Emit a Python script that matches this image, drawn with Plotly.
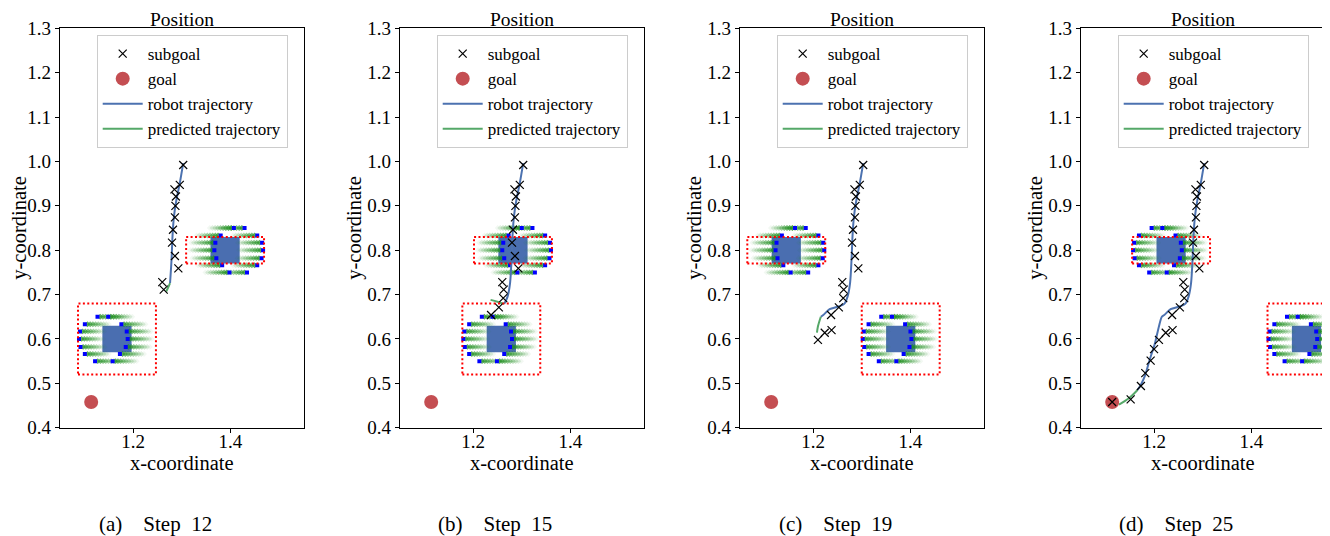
import plotly.graph_objects as go

# the page body adds an 8px margin; the figure is sized and laid out to compensate
PAGE_W, PAGE_H = 1330, 536
SHIFT = 8
FIG_W, FIG_H = PAGE_W - SHIFT, PAGE_H - SHIFT
FONT = "Liberation Serif, Times New Roman, serif"

# ---------------- data ----------------
panel_letters = ["a", "b", "c", "d"]
panel_steps = [12, 15, 19, 25]

x_range = [1.05, 1.55]
y_range = [0.4, 1.3]
x_tickvals = [1.2, 1.4]
y_tickvals = [0.4, 0.5, 0.6, 0.7, 0.8, 0.9, 1.0, 1.1, 1.2, 1.3]

goal_x = [1.114]
goal_y = [0.458]

subgoal_x = [1.303, 1.296, 1.285, 1.288, 1.287, 1.286, 1.282, 1.280, 1.286, 1.293,
             1.260, 1.263, 1.262, 1.253, 1.237, 1.238, 1.224, 1.210,
             1.200, 1.193, 1.182, 1.173, 1.152, 1.114]
subgoal_y = [0.992, 0.947, 0.937, 0.921, 0.900, 0.874, 0.846, 0.817, 0.787, 0.759,
             0.728, 0.711, 0.692, 0.671, 0.654, 0.620, 0.614, 0.598,
             0.577, 0.551, 0.523, 0.494, 0.464, 0.458]
subgoal_count = [12, 15, 18, 24]

traj_x = [1.303, 1.296, 1.289, 1.284, 1.281, 1.279, 1.276, 1.271, 1.264,
          1.252, 1.234, 1.221, 1.216, 1.210, 1.202, 1.191, 1.182, 1.173, 1.166]
traj_y = [0.996, 0.951, 0.913, 0.876, 0.831, 0.778, 0.726, 0.696, 0.679,
          0.673, 0.667, 0.654, 0.650, 0.628, 0.591, 0.553, 0.519, 0.497, 0.485]
traj_count = [7, 9, 13, 19]

pred_x = [[1.276, 1.272, 1.268], [1.264, 1.250, 1.236],
          [1.216, 1.210, 1.208], [1.166, 1.149, 1.128]]
pred_y = [[0.726, 0.716, 0.707], [0.679, 0.684, 0.688],
          [0.650, 0.628, 0.614], [0.485, 0.467, 0.452]]

# obstacles: centre per panel and direction of motion (+1 right, -1 left)
lower_obs_x = [1.167, 1.258, 1.380, 1.513]
lower_obs_y = [0.600, 0.600, 0.600, 0.600]
lower_dir = [1, 1, 1, 1]
upper_obs_x = [1.389, 1.282, 1.145, 1.235]
upper_obs_y = [0.800, 0.800, 0.800, 0.800]
upper_dir = [-1, -1, -1, 1]

obs_half = 0.03
lower_margin = [0.08, 0.08]
upper_margin = [0.08, 0.03]

# boundary sample points (blue) relative to obstacle centre
back_dx = [0.040, 0.066, 0.076, 0.078, 0.075, 0.066, 0.045]
front_dx = [-0.018, 0.009, 0.020, 0.022, 0.018, 0.006, -0.009]
arc_dy = [0.050, 0.033, 0.017, 0.0, -0.018, -0.034, -0.050]
trail_steps = 9
trail_spacing = 0.0055

# ---------------- layout geometry (page pixels) ----------------
panel_left = [60, 400, 740, 1081]
panel_w = 243.5
plot_top, plot_bottom = 28.3, 427.7

COL_TRAJ = "#4c72b0"
COL_PRED = "#55a868"
COL_GOAL = "#c44e52"
COL_OBS = "#4a6eb0"


def px_x(p):
    return (p - SHIFT) / FIG_W


def px_y(p):
    return 1 - (p - SHIFT) / FIG_H


fig = go.Figure()
shapes = []
annotations = []

for i in range(4):
    ax = "" if i == 0 else str(i + 1)
    xref, yref = "x" + ax, "y" + ax
    leg = "legend" + ax

    for (cx_list, cy_list, dirs, margin) in [
        (lower_obs_x, lower_obs_y, lower_dir, lower_margin),
        (upper_obs_x, upper_obs_y, upper_dir, upper_margin),
    ]:
        cx, cy, d = cx_list[i], cy_list[i], dirs[i]
        shapes.append(dict(type="rect", xref=xref, yref=yref, layer="below",
                           x0=cx - obs_half, x1=cx + obs_half,
                           y0=cy - obs_half, y1=cy + obs_half,
                           fillcolor=COL_OBS, line=dict(width=0)))
        shapes.append(dict(type="rect", xref=xref, yref=yref, layer="above",
                           x0=cx - margin[0], x1=cx + margin[0],
                           y0=cy - margin[1], y1=cy + margin[1],
                           line=dict(color="#ff0000", width=2, dash="2px,2.4px")))
        bx, by = [], []
        for dxs, sgn in [(back_dx, -1), (front_dx, 1)]:
            for dx, dy in zip(dxs, arc_dy):
                bx.append(cx + sgn * d * dx)
                by.append(cy + dy)
        tx, ty, top = [], [], []
        for x0, y0 in zip(bx, by):
            for k in range(1, trail_steps + 1):
                tx.append(x0 + d * k * trail_spacing)
                ty.append(y0)
                top.append(0.7 - 0.64 * (k - 1) / (trail_steps - 1))
        fig.add_trace(go.Scatter(
            x=tx, y=ty, mode="markers", xaxis=xref, yaxis=yref,
            marker=dict(symbol="diamond", size=4.5, color="#1f8f1f", opacity=top),
            showlegend=False, hoverinfo="skip"))
        fig.add_trace(go.Scatter(
            x=bx, y=by, mode="markers", xaxis=xref, yaxis=yref,
            marker=dict(symbol="square", size=4, color="#0000ff"),
            showlegend=False, hoverinfo="skip"))

    n = traj_count[i]
    fig.add_trace(go.Scatter(
        x=traj_x[:n], y=traj_y[:n], mode="lines", name="robot trajectory",
        line=dict(color=COL_TRAJ, width=2, shape="spline", smoothing=0.8),
        xaxis=xref, yaxis=yref, legend=leg, legendrank=3, legendgroup="r" + ax))
    fig.add_trace(go.Scatter(
        x=pred_x[i], y=pred_y[i], mode="lines", name="predicted trajectory",
        line=dict(color=COL_PRED, width=2, shape="spline"),
        xaxis=xref, yaxis=yref, legend=leg, legendrank=4, legendgroup="p" + ax))
    fig.add_trace(go.Scatter(
        x=goal_x, y=goal_y, mode="markers", name="goal",
        marker=dict(color=COL_GOAL, size=14),
        xaxis=xref, yaxis=yref, legend=leg, legendrank=2, legendgroup="g" + ax))
    m = subgoal_count[i]
    fig.add_trace(go.Scatter(
        x=subgoal_x[:m], y=subgoal_y[:m], mode="markers", name="subgoal",
        marker=dict(symbol="x-thin", size=8, line=dict(color="black", width=1.2)),
        xaxis=xref, yaxis=yref, legend=leg, legendrank=1, legendgroup="s" + ax))

    left = panel_left[i]
    dom_x = [px_x(left), px_x(left + panel_w)]
    dom_y = [px_y(plot_bottom), px_y(plot_top)]
    axis_common = dict(showline=True, mirror=True, linecolor="black", linewidth=1.2,
                       ticks="outside", ticklen=4, tickcolor="black", tickwidth=1,
                       showgrid=False, zeroline=False, automargin=False,
                       tickfont=dict(family=FONT, size=19, color="black"))
    fig.layout["xaxis" + ax] = dict(
        domain=dom_x, range=x_range, anchor=yref, tickvals=x_tickvals,
        tickformat=".1f", ticklabelstandoff=-8,
        title=dict(text="x-coordinate", standoff=3,
                   font=dict(family=FONT, size=20.5, color="black")),
        **axis_common)
    fig.layout["yaxis" + ax] = dict(
        domain=dom_y, range=y_range, anchor=xref, tickvals=y_tickvals,
        tickformat=".1f",
        title=dict(text="y-coordinate", standoff=0,
                   font=dict(family=FONT, size=20.5, color="black")),
        **axis_common)
    fig.layout[leg] = dict(
        x=px_x(left + 36.7), y=px_y(35), xanchor="left", yanchor="top",
        xref="paper", yref="paper",
        bgcolor="rgba(255,255,255,0.85)", bordercolor="#cccccc", borderwidth=1,
        font=dict(family=FONT, size=17, color="black"), itemwidth=40,
        traceorder="grouped", tracegroupgap=0)

    annotations.append(dict(
        text="Position", xref="paper", yref="paper",
        x=px_x(left + panel_w / 2), y=1.0,
        xanchor="center", yanchor="top", showarrow=False, borderpad=0,
        font=dict(family=FONT, size=19.5, color="black")))
    annotations.append(dict(
        text="(" + panel_letters[i] + ")\u2003Step\u2002" + str(panel_steps[i]),
        xref="paper", yref="paper",
        x=px_x(left + 95), y=px_y(524),
        xanchor="center", yanchor="middle", showarrow=False,
        font=dict(family=FONT, size=21, color="black")))

fig.update_layout(
    width=FIG_W, height=FIG_H,
    margin=dict(l=0, r=0, t=0, b=0, autoexpand=False),
    paper_bgcolor="white", plot_bgcolor="white",
    font=dict(family=FONT, color="black"),
    shapes=shapes, annotations=annotations,
)

fig.write_html("out.html")
